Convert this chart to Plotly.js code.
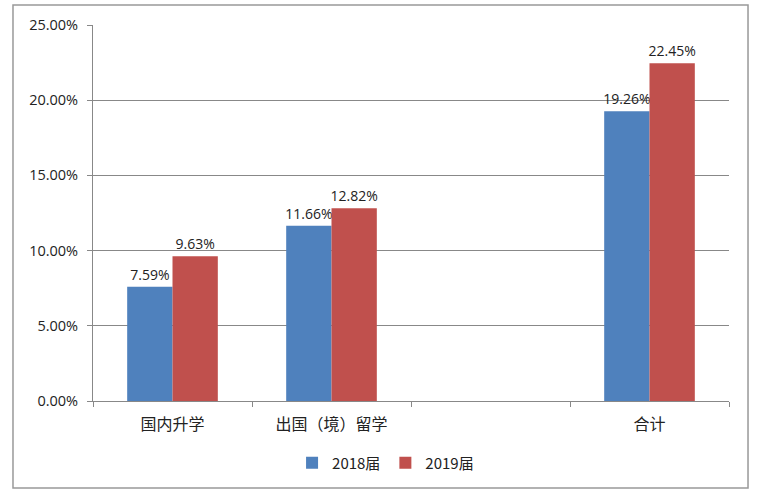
<!DOCTYPE html>
<html>
<head>
<meta charset="utf-8">
<script src="https://cdn.plot.ly/plotly-3.0.1.min.js"></script>
<style>html,body{margin:0;padding:0;background:#fff;}#chart{width:758px;height:496px;}</style>
</head>
<body>
<div id="chart"></div>
<script>
const categories = ['国内升学', '出国（境）留学', ' ', '合计'];
const series2018 = [7.59, 11.66, null, 19.26];
const series2019 = [9.63, 12.82, null, 22.45];
const seriesNames = ['2018届', '2019届'];
const yTicks = [0, 5, 10, 15, 20, 25];

const fontFam = '"Noto Sans CJK SC", "Noto Sans", sans-serif';
const numFam = '"Open Sans", "Noto Sans", "Noto Sans CJK SC", sans-serif';
function labels(arr){ return arr.map(v => v == null ? '' : v.toFixed(2) + '%'); }

const traces = [
  {type:'bar', name:seriesNames[0], x:categories, y:series2018, marker:{color:'#4F81BD'},
   text:labels(series2018), textposition:'outside', cliponaxis:false, constraintext:'none',
   textfont:{family:numFam, size:14, color:'#222'}, hoverinfo:'none'},
  {type:'bar', name:seriesNames[1], x:categories, y:series2019, marker:{color:'#C0504D'},
   text:labels(series2019), textposition:'outside', cliponaxis:false, constraintext:'none',
   textfont:{family:numFam, size:14, color:'#222'}, hoverinfo:'none'}
];

const layout = {
  width:758, height:496,
  margin:{l:93, r:29, t:25, b:95},
  paper_bgcolor:'#fff', plot_bgcolor:'#fff',
  font:{family:fontFam, size:14, color:'#222'},
  barmode:'group', bargap:0.43, bargroupgap:0,
  showlegend:true,
  legend:{orientation:'h', x:0.46, xanchor:'center', y:-0.165, yanchor:'middle',
          font:{family:fontFam, size:15, color:'#222'}, itemwidth:30, traceorder:'normal'},
  xaxis:{type:'category', showline:true, linecolor:'#888', linewidth:1,
         tickson:'boundaries', ticks:'outside', ticklen:5, tickcolor:'#888',
         ticklabelstandoff:9,
         showgrid:false, tickfont:{family:fontFam, size:16, color:'#222'}, fixedrange:true},
  yaxis:{range:[0,25], tickvals:yTicks, ticktext:yTicks.map(v=>v.toFixed(2)+'%'),
         showline:true, linecolor:'#888', linewidth:1, ticks:'outside', ticklen:5, tickcolor:'#888',
         ticklabelstandoff:6,
         showgrid:true, gridcolor:'#888', gridwidth:1, zeroline:false,
         tickfont:{family:numFam, size:14.5, color:'#222'}, fixedrange:true},
  shapes:[{type:'rect', xref:'paper', yref:'paper', x0:-0.1258, x1:1.0299, y0:-0.2314, y1:1.0532,
           line:{color:'#999', width:1.5}, fillcolor:'rgba(0,0,0,0)', layer:'below'}]
};

Plotly.newPlot('chart', traces, layout, {displayModeBar:false, staticPlot:true});
</script>
</body>
</html>
